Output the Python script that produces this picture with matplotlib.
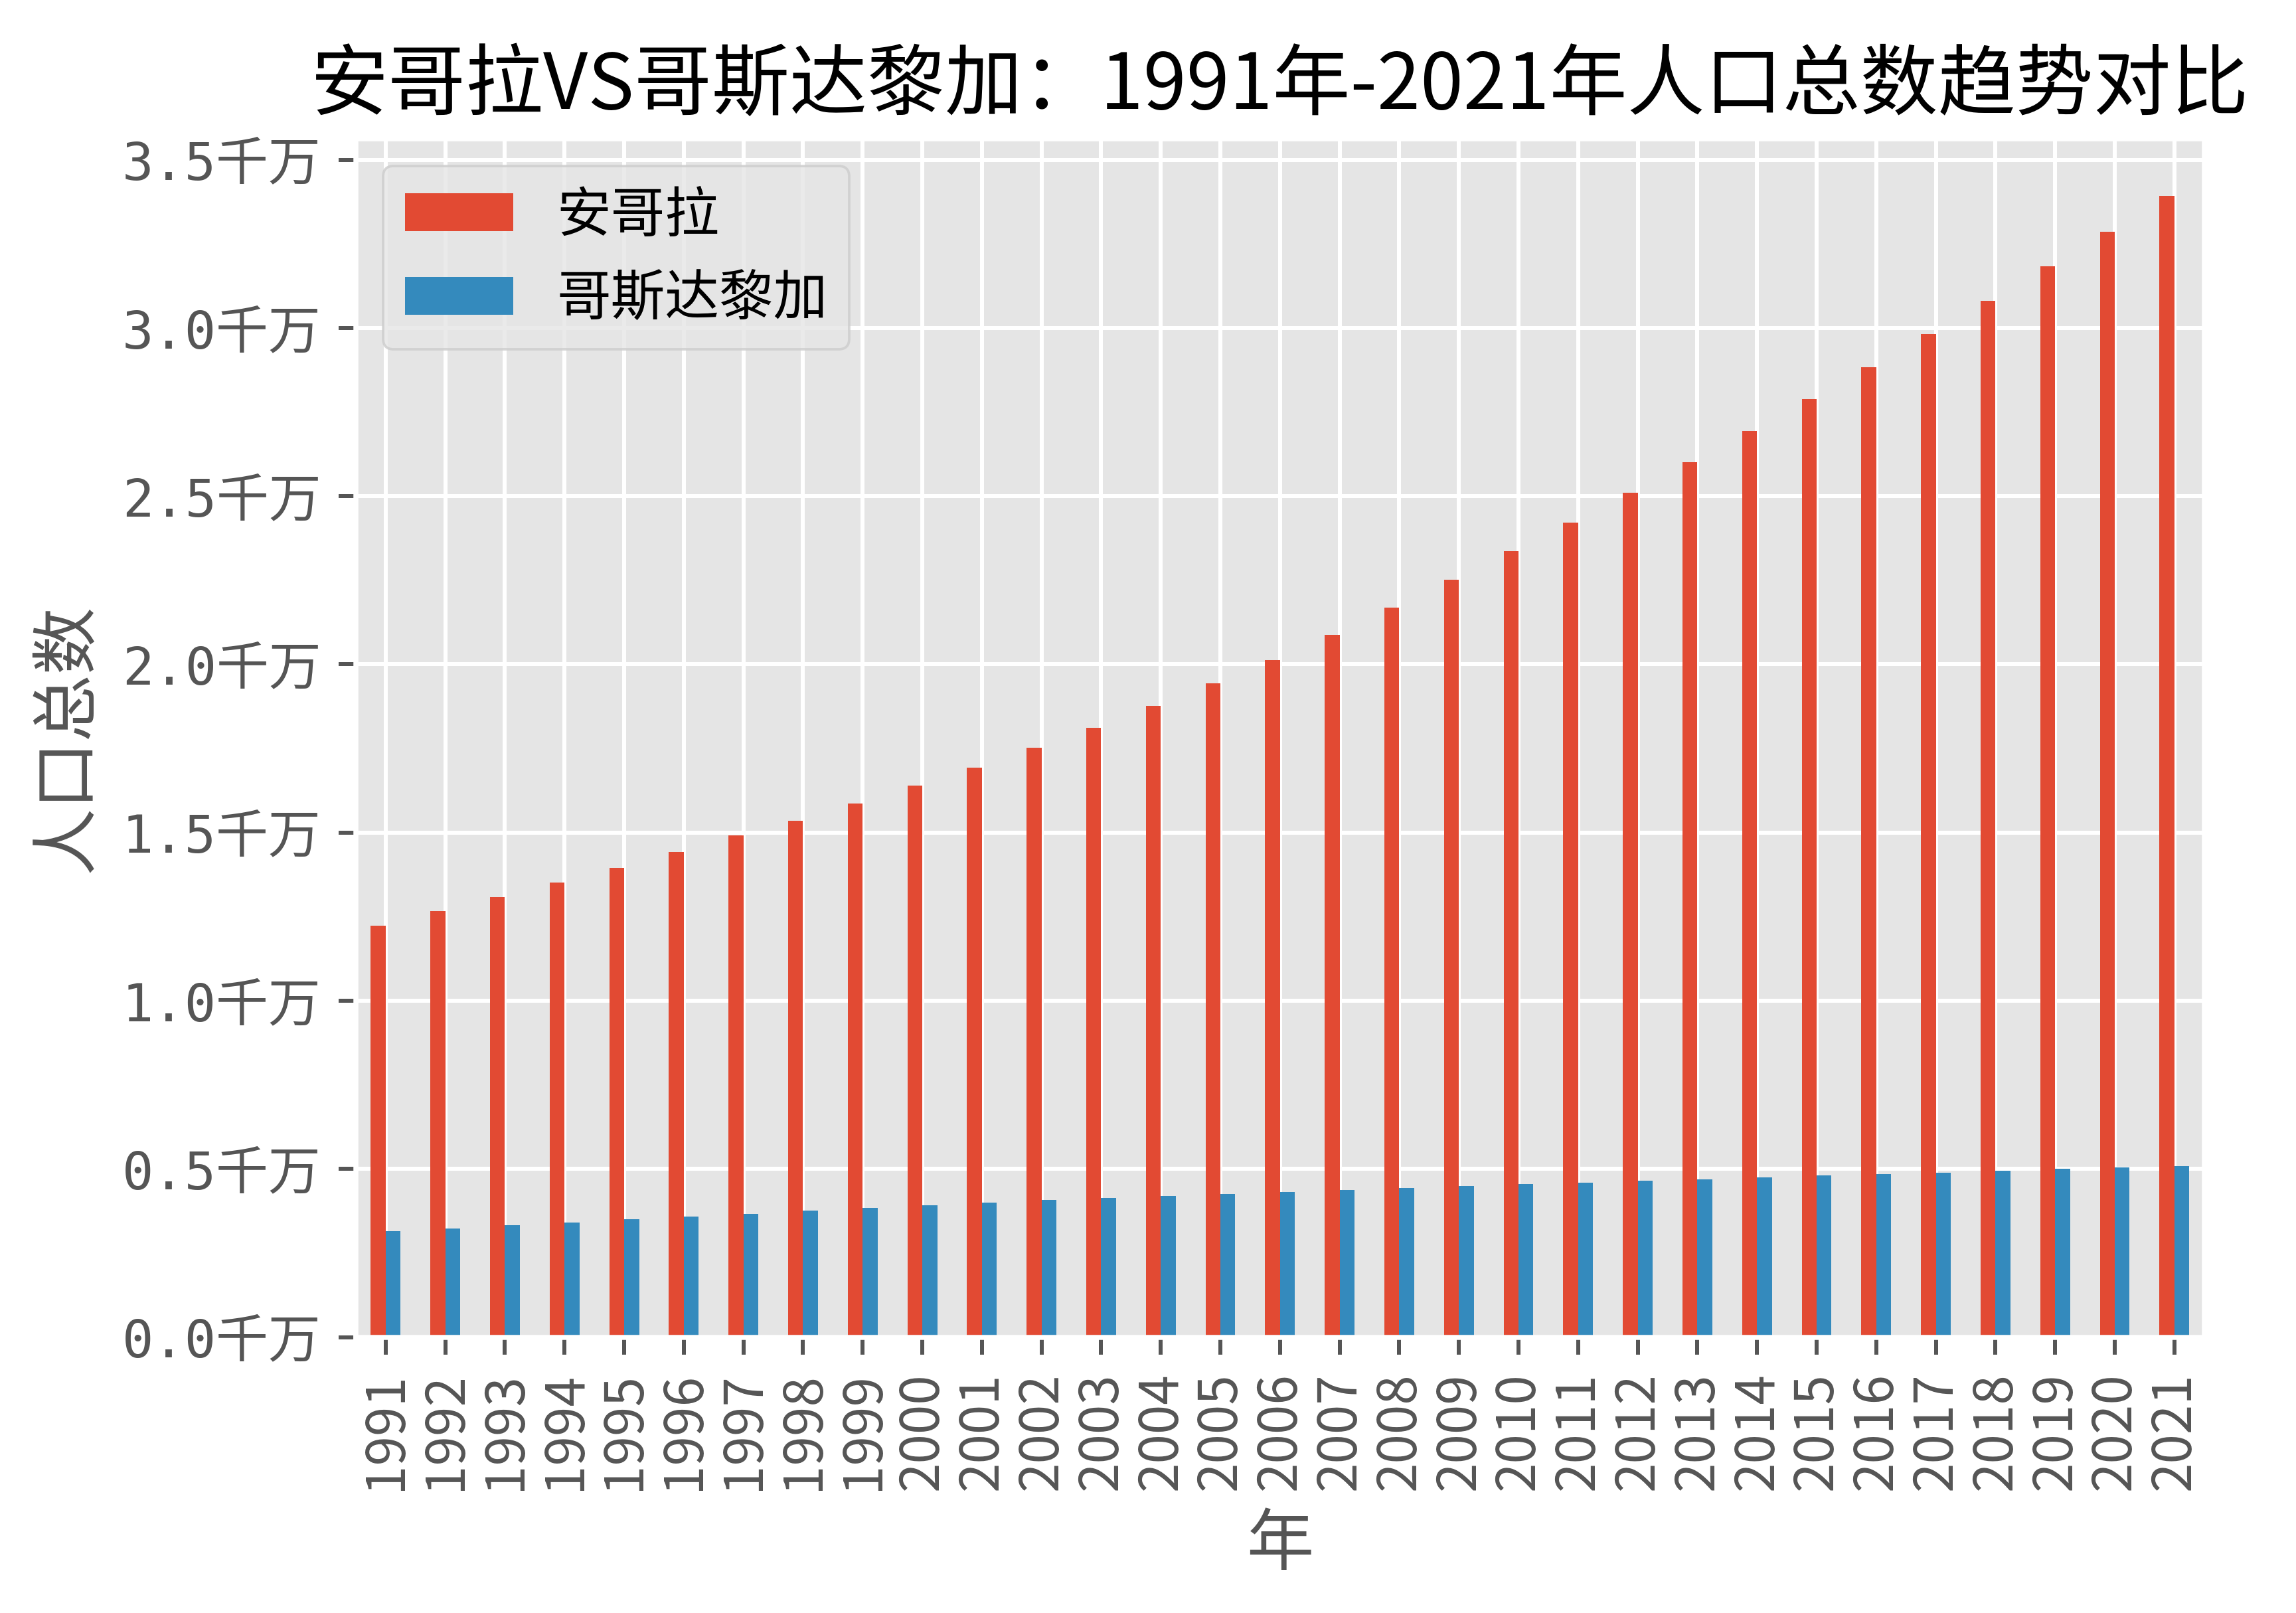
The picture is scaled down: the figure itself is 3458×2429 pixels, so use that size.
import matplotlib
matplotlib.use("Agg")
import matplotlib.pyplot as plt
from matplotlib.ticker import FuncFormatter
import pandas as pd

plt.style.use("ggplot")
plt.rcParams["font.family"] = ["Noto Sans CJK SC", "DejaVu Sans"]
plt.rcParams["axes.unicode_minus"] = False

years = list(range(1991, 2022))
# population in millions
angola = [12.23, 12.66, 13.08, 13.51, 13.95, 14.42, 14.91, 15.36, 15.87, 16.39,
          16.94, 17.52, 18.12, 18.76, 19.43, 20.13, 20.87, 21.69, 22.51, 23.36,
          24.22, 25.11, 26.02, 26.94, 27.88, 28.84, 29.82, 30.81, 31.83, 32.87,
          33.93]
costa_rica = [3.16, 3.24, 3.33, 3.41, 3.50, 3.58, 3.67, 3.76, 3.84, 3.93,
              4.00, 4.07, 4.14, 4.20, 4.26, 4.32, 4.38, 4.44, 4.49, 4.55,
              4.60, 4.65, 4.70, 4.75, 4.80, 4.85, 4.89, 4.95, 5.00, 5.05,
              5.09]

df = pd.DataFrame({"安哥拉": angola, "哥斯达黎加": costa_rica}, index=years)

fig, ax = plt.subplots(figsize=(3458 / 540, 2429 / 540), dpi=540)
df.plot(kind="bar", ax=ax)

ax.yaxis.set_major_formatter(FuncFormatter(lambda v, p: "%.1f千万" % (v / 10)))
for lbl in ax.get_yticklabels():
    lbl.set_family(["DejaVu Sans Mono", "Noto Sans CJK SC"])
    lbl.set_fontsize(10.5)
ax.tick_params(axis="x", labelsize=10.7)
ax.set_title("安哥拉VS哥斯达黎加：1991年-2021年人口总数趋势对比", fontsize=15.6)
ax.set_xlabel("年", fontsize=13.5)
ax.set_ylabel("人口总数", fontsize=13.5)
ax.legend(loc="upper left", fontsize=10.9)

fig.subplots_adjust(left=0.155, right=0.960, top=0.914, bottom=0.171)
fig.savefig("out.png", dpi=540)
